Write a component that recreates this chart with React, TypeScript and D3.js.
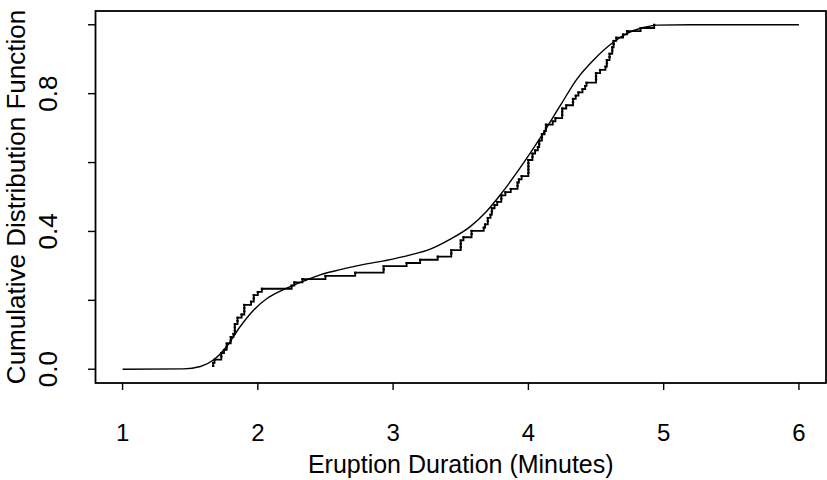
import React from "react";
import * as d3 from "d3";

// Observed eruption durations (minutes), read from the step positions
const eruptions = [
  1.67, 1.67, 1.68, 1.73, 1.73, 1.75, 1.77, 1.77, 1.8, 1.8, 1.82, 1.83, 1.83, 1.83,
  1.85, 1.85, 1.88, 1.9, 1.9, 1.9, 1.95, 1.97, 1.97, 2.0, 2.03, 2.25, 2.27, 2.33,
  2.5, 2.72, 2.93, 2.93, 3.1, 3.2, 3.33, 3.43, 3.43, 3.5, 3.5, 3.5, 3.52, 3.58, 3.58,
  3.67, 3.68, 3.7, 3.7, 3.72, 3.73, 3.73, 3.75, 3.77, 3.8, 3.8, 3.83, 3.87, 3.92,
  3.92, 3.93, 3.95, 4.0, 4.0, 4.0, 4.0, 4.0, 4.03, 4.03, 4.05, 4.07, 4.08, 4.08,
  4.1, 4.1, 4.12, 4.13, 4.13, 4.18, 4.2, 4.25, 4.25, 4.25, 4.28, 4.33, 4.33, 4.35,
  4.37, 4.4, 4.42, 4.43, 4.5, 4.5, 4.5, 4.53, 4.57, 4.58, 4.58, 4.6, 4.6, 4.62, 4.62,
  4.63, 4.63, 4.65, 4.7, 4.73, 4.83, 4.93,
];

// Smooth fitted CDF
const curveX = [
  1.0, 1.45, 1.576, 1.674, 1.77, 1.87, 1.97, 2.07, 2.17, 2.24, 2.36, 2.46, 2.61, 2.73,
  2.93, 3.13, 3.27, 3.42, 3.57, 3.69, 3.79, 3.94, 4.09, 4.235, 4.36, 4.48, 4.63,
  4.73, 4.85, 4.95, 5.2, 6.0,
];
const curveY = [
  0.0, 0.001, 0.008, 0.0275, 0.066, 0.124, 0.172, 0.206, 0.2275, 0.24, 0.259, 0.274,
  0.289, 0.3, 0.3145, 0.332, 0.348, 0.377, 0.414, 0.458, 0.505, 0.585, 0.673, 0.765,
  0.843, 0.897, 0.95, 0.975, 0.992, 0.999, 1.0, 1.0,
];

const xTicks = [1, 2, 3, 4, 5, 6];
const yTicks = [0, 0.2, 0.4, 0.6, 0.8, 1.0];
const yLabelTicks = [0, 0.4, 0.8];

const W = 827;
const H = 480;
const left = 95.5;
const right = 826;
const top = 11;
const bottom = 383;

export default function App() {
  const x = d3.scaleLinear().domain([0.8, 6.2]).range([left, right]);
  const y = d3.scaleLinear().domain([-0.04, 1.04]).range([bottom, top]);

  const sorted = [...eruptions].sort((a, b) => a - b);
  const n = sorted.length;
  const ecdfPts: [number, number][] = sorted.map((v, i) => [v, (i + 1) / n]);

  const stepLine = d3
    .line<[number, number]>()
    .x((d) => x(d[0]))
    .y((d) => y(d[1]))
    .curve(d3.curveStepAfter);

  const smooth = d3
    .line<number>()
    .x((_, i) => x(curveX[i]))
    .y((_, i) => y(curveY[i]))
    .curve(d3.curveMonotoneX);

  const font = "'Liberation Sans', Arial, Helvetica, sans-serif";

  return (
    <svg
      width={W}
      height={H}
      style={{ position: "fixed", left: 0, top: 0, background: "#fff" }}
    >
      <rect x={0} y={0} width={W} height={H} fill="#fff" />
      {/* smooth CDF */}
      <path
        d={smooth(curveY) || ""}
        fill="none"
        stroke="#000"
        strokeWidth={1.4}
      />
      {/* ECDF */}
      <path
        d={stepLine(ecdfPts) || ""}
        fill="none"
        stroke="#000"
        strokeWidth={1.8}
      />
      {ecdfPts.map((d, i) => (
        <rect
          key={i}
          x={x(d[0]) - 1.2}
          y={y(d[1]) - 1}
          width={2.4}
          height={2}
          fill="#000"
        />
      ))}
      {/* box */}
      <rect
        x={left}
        y={top}
        width={right - left}
        height={bottom - top}
        fill="none"
        stroke="#000"
        strokeWidth={1.8}
      />
      {/* x axis ticks */}
      {xTicks.map((t) => (
        <g key={"x" + t}>
          <line
            x1={x(t)}
            x2={x(t)}
            y1={bottom}
            y2={bottom + 7}
            stroke="#000"
            strokeWidth={1.4}
          />
          <text
            transform={`translate(${x(t)},441)`}
            textAnchor="middle"
            fontFamily={font}
            fontSize={24}
            fill="#000"
          >
            {t}
          </text>
        </g>
      ))}
      {/* y axis ticks */}
      {yTicks.map((t) => (
        <line
          key={"y" + t}
          x1={left - 7.5}
          x2={left}
          y1={y(t)}
          y2={y(t)}
          stroke="#000"
          strokeWidth={1.4}
        />
      ))}
      {yLabelTicks.map((t) => (
        <text
          key={"yl" + t}
          transform={`translate(57,${y(t)}) rotate(-90)`}
          textAnchor="middle"
          fontFamily={font}
          fontSize={26}
          fill="#000"
        >
          {t.toFixed(1)}
        </text>
      ))}
      {/* axis titles */}
      <text
        transform={`translate(${(left + right) / 2},473)`}
        textAnchor="middle"
        fontFamily={font}
        fontSize={25}
        fill="#000"
      >
        Eruption Duration (Minutes)
      </text>
      <text
        transform={`translate(25,${(top + bottom) / 2}) rotate(-90)`}
        textAnchor="middle"
        fontFamily={font}
        fontSize={26}
        fill="#000"
      >
        Cumulative Distribution Function
      </text>
    </svg>
  );
}
